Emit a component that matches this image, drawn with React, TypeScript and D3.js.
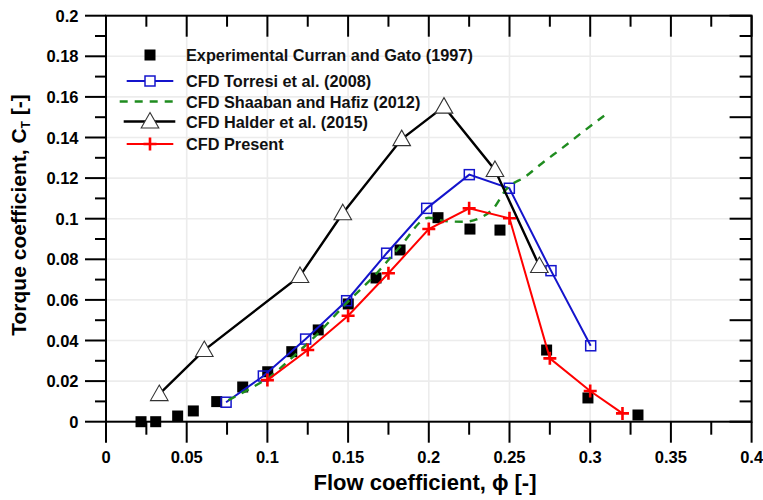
import React from "react";
import * as d3 from "d3";

const xTickLabels = ["0", "0.05", "0.1", "0.15", "0.2", "0.25", "0.3", "0.35", "0.4"];
const yTickLabels = ["0", "0.02", "0.04", "0.06", "0.08", "0.1", "0.12", "0.14", "0.16", "0.18", "0.2"];

const expPhi = [0.0217, 0.0308, 0.0444, 0.0541, 0.0686, 0.0847, 0.1002, 0.1151, 0.1315, 0.1501, 0.1673, 0.1822, 0.2057, 0.2255, 0.2441, 0.273, 0.2986, 0.3296];
const expCT = [0, 0, 0.0028, 0.0053, 0.0099, 0.0171, 0.0246, 0.0345, 0.0452, 0.058, 0.0708, 0.0846, 0.1005, 0.0949, 0.0944, 0.0353, 0.0117, 0.0033];

const torresiPhi = [0.0744, 0.0975, 0.1237, 0.1491, 0.1739, 0.1987, 0.2251, 0.2499, 0.2757, 0.3003];
const torresiCT = [0.0096, 0.0225, 0.0407, 0.0596, 0.083, 0.1051, 0.1217, 0.115, 0.0744, 0.0374];

const shaabanPhi = [0.0758, 0.089, 0.1016, 0.116, 0.1305, 0.149, 0.1677, 0.1822, 0.2, 0.21, 0.222, 0.232, 0.24, 0.248, 0.26, 0.27, 0.283, 0.295, 0.31];
const shaabanCT = [0.0106, 0.0162, 0.0222, 0.0321, 0.0428, 0.0584, 0.0731, 0.0862, 0.1005, 0.0988, 0.0985, 0.1005, 0.105, 0.1145, 0.1208, 0.1272, 0.135, 0.1425, 0.1515];

const halderPhi = [0.033, 0.0609, 0.1202, 0.1467, 0.1832, 0.2094, 0.241, 0.2685];
const halderCT = [0.0136, 0.0353, 0.0718, 0.1027, 0.1392, 0.1552, 0.124, 0.0767];

const presentPhi = [0.1, 0.125, 0.15, 0.175, 0.2, 0.225, 0.25, 0.275, 0.3, 0.32];
const presentCT = [0.0205, 0.0353, 0.0522, 0.0731, 0.0949, 0.1051, 0.1002, 0.0312, 0.0151, 0.0041];

const legendLabels = [
  "Experimental Curran and Gato (1997)",
  "CFD Torresi et al. (2008)",
  "CFD Shaaban and Hafiz (2012)",
  "CFD Halder et al. (2015)",
  "CFD Present",
];

const W = 763, H = 500;
const L = 106, R = 751.6, T = 15.7, B = 421.7;
const FONT = "'Liberation Sans', Arial, Helvetica, sans-serif";
const BLUE = "#1414cc";
const RED = "#ff0000";
const GREEN = "#1f8c1f";

type P = [number, number];
const zip = (a: number[], b: number[]): P[] => a.map((v, i) => [v, b[i]]);

export default function App() {
  const x = d3.scaleLinear().domain([0, 0.4]).range([L, R]);
  const y = d3.scaleLinear().domain([0, 0.2]).range([B, T]);
  const line = d3.line<P>().x((d) => x(d[0])).y((d) => y(d[1]));

  const xMajor = d3.range(0, 9).map((i) => i * 0.05);
  const xMinor = d3.range(0, 8).map((i) => i * 0.05 + 0.025);
  const yMajor = d3.range(0, 11).map((i) => i * 0.02);
  const yMinor = d3.range(0, 10).map((i) => i * 0.02 + 0.01);
  const yRightAll = d3.range(0, 21).map((i) => i * 0.01);

  const exp = zip(expPhi, expCT);
  const tor = zip(torresiPhi, torresiCT);
  const sha = zip(shaabanPhi, shaabanCT);
  const hal = zip(halderPhi, halderCT);
  const pre = zip(presentPhi, presentCT);

  const sq = (cx: number, cy: number, s: number, key: any, props: any) => (
    <rect key={key} x={cx - s / 2} y={cy - s / 2} width={s} height={s} {...props} />
  );
  const tri = (cx: number, cy: number, key: any) => (
    <path key={key} d={`M${cx},${cy - 9}L${cx + 8.8},${cy + 6.5}L${cx - 8.8},${cy + 6.5}Z`} fill="#fff" stroke="#333" strokeWidth={1.1} />
  );
  const plus = (cx: number, cy: number, key: any) => (
    <path key={key} d={`M${cx - 6.5},${cy}H${cx + 6.5}M${cx},${cy - 6.5}V${cy + 6.5}`} stroke={RED} strokeWidth={2.6} fill="none" />
  );

  const legY = [55, 81, 101.5, 121.5, 144];
  const lx0 = 126.7, lx1 = 173.3, lc = 150, tx = 186;

  return (
    <svg width={W} height={H} style={{ position: "absolute", left: 0, top: 0, background: "#fff" }} fontFamily={FONT}>
      <rect x={0} y={0} width={W} height={H} fill="#fff" />
      {/* grid */}
      {yMajor.slice(1, -1).map((v, i) => (
        <line key={"gy" + i} x1={L} x2={R} y1={y(v)} y2={y(v)} stroke="#ececec" strokeWidth={1.6} />
      ))}
      {xMajor.slice(1, -1).map((v, i) => (
        <line key={"gx" + i} y1={T} y2={B} x1={x(v)} x2={x(v)} stroke="#ececec" strokeWidth={1.6} />
      ))}

      {/* series */}
      <g>{exp.map((d, i) => sq(x(d[0]), y(d[1]), 11, "e" + i, { fill: "#000" }))}</g>
      <path d={line(tor) || ""} fill="none" stroke={BLUE} strokeWidth={2} />
      <g>{tor.map((d, i) => sq(x(d[0]), y(d[1]), 10, "t" + i, { fill: "none", stroke: BLUE, strokeWidth: 1.5 }))}</g>
      <path d={d3.line<P>().x((d) => x(d[0])).y((d) => y(d[1])).curve(d3.curveMonotoneX)(sha) || ""} fill="none" stroke={GREEN} strokeWidth={2.4} strokeDasharray="8,7" />
      <path d={line(hal) || ""} fill="none" stroke="#000" strokeWidth={2.4} />
      <g>{hal.map((d, i) => tri(x(d[0]), y(d[1]), "h" + i))}</g>
      <path d={line(pre) || ""} fill="none" stroke={RED} strokeWidth={2} />
      <g>{pre.map((d, i) => plus(x(d[0]), y(d[1]), "p" + i))}</g>

      {/* frame */}
      <rect x={L} y={T} width={R - L} height={B - T} fill="none" stroke="#000" strokeWidth={2} />

      {/* bottom ticks (outside) and top ticks (inside) */}
      {xMajor.map((v, i) => (
        <g key={"xm" + i}>
          <line x1={x(v)} x2={x(v)} y1={B} y2={B + 21} stroke="#000" strokeWidth={2} />
          <line x1={x(v)} x2={x(v)} y1={T} y2={T + 21} stroke="#000" strokeWidth={2} />
          <text x={x(v)} y={462.5} fontSize={16.5} fontWeight="bold" textAnchor="middle" fill="#000">{xTickLabels[i]}</text>
        </g>
      ))}
      {xMinor.map((v, i) => (
        <g key={"xn" + i}>
          <line x1={x(v)} x2={x(v)} y1={B} y2={B + 13} stroke="#000" strokeWidth={2} />
          <line x1={x(v)} x2={x(v)} y1={T} y2={T + 11} stroke="#000" strokeWidth={2} />
        </g>
      ))}
      {/* left ticks (outside) */}
      {yMajor.map((v, i) => (
        <g key={"ym" + i}>
          <line x1={L - 21} x2={L} y1={y(v)} y2={y(v)} stroke="#000" strokeWidth={2} />
          <text x={78.5} y={y(v) + 6} fontSize={16.5} fontWeight="bold" textAnchor="end" fill="#000">{yTickLabels[i]}</text>
        </g>
      ))}
      {yMinor.map((v, i) => (
        <line key={"yn" + i} x1={L - 11} x2={L} y1={y(v)} y2={y(v)} stroke="#000" strokeWidth={2} />
      ))}
      {/* right ticks (inside) */}
      {yRightAll.map((v, i) => {
        const major = i % 5 === 0;
        return <line key={"yr" + i} x1={R - (major ? 22 : 12)} x2={R} y1={y(v)} y2={y(v)} stroke="#000" strokeWidth={2} />;
      })}

      {/* axis titles */}
      <text x={425} y={490} fontSize={22} fontWeight="bold" textAnchor="middle" fill="#000">Flow coefficient, ϕ [-]</text>
      <text transform="translate(26,215) rotate(-90)" fontSize={21} fontWeight="bold" textAnchor="middle" fill="#000">
        Torque coefficient, C<tspan fontSize={12} dy={4}>T</tspan><tspan dy={-4}> [-]</tspan>
      </text>

      {/* legend */}
      <g>
        {sq(lc, legY[0], 11, "l0", { fill: "#000" })}
        <line x1={lx0} x2={lx1} y1={legY[1]} y2={legY[1]} stroke={BLUE} strokeWidth={2} />
        {sq(lc, legY[1], 10, "l1", { fill: "#fff", stroke: BLUE, strokeWidth: 1.5 })}
        <line x1={lx0 - 7} x2={lx1} y1={legY[2]} y2={legY[2]} stroke={GREEN} strokeWidth={2.4} strokeDasharray="8,7" />
        <line x1={lx0 - 3} x2={lx1 + 2} y1={legY[3]} y2={legY[3]} stroke="#000" strokeWidth={2.4} />
        {tri(lc, legY[3], "l3")}
        <line x1={lx0} x2={lx1} y1={legY[4]} y2={legY[4]} stroke={RED} strokeWidth={2} />
        {plus(lc, legY[4], "l4")}
        {legendLabels.map((t, i) => (
          <text key={"lt" + i} x={tx} y={legY[i] + 6} fontSize={16.3} fontWeight="bold" fill="#111">{t}</text>
        ))}
      </g>
    </svg>
  );
}
